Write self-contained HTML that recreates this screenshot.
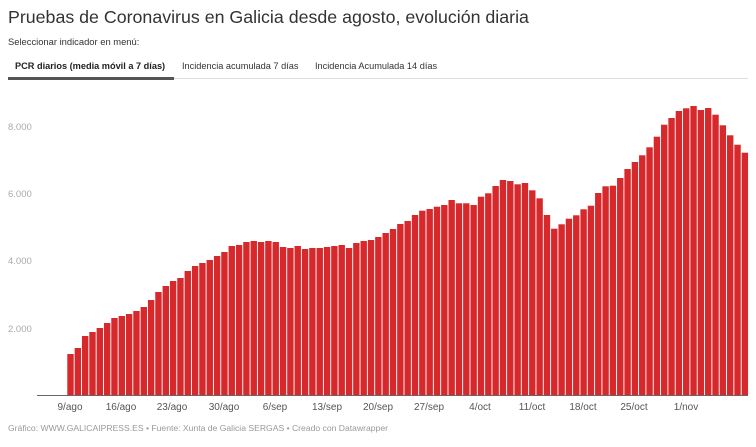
<!DOCTYPE html>
<html><head><meta charset="utf-8"><style>
body{margin:0;width:756px;height:447px;background:#fff;font-family:"Liberation Sans",sans-serif;overflow:hidden;position:relative}
.t{position:absolute;left:8px;top:7px;font-size:17.8px;color:#333;white-space:nowrap}
.s{position:absolute;left:8px;top:36px;font-size:9.4px;color:#333;white-space:nowrap}
.tab{position:absolute;top:61px;font-size:9.2px;color:#333;white-space:nowrap}
.f{position:absolute;left:8px;top:423px;font-size:8.6px;color:#999;white-space:nowrap}
</style></head><body>
<div class="t">Pruebas de Coronavirus en Galicia desde agosto, evolución diaria</div>
<div class="s">Seleccionar indicador en menú:</div>
<div class="tab" style="left:15px;font-weight:bold;color:#222">PCR diarios (media móvil a 7 días)</div>
<div class="tab" style="left:182px">Incidencia acumulada 7 días</div>
<div class="tab" style="left:315px">Incidencia Acumulada 14 días</div>
<div style="position:absolute;left:8px;top:78px;width:740px;height:1px;background:#ddd"></div>
<div style="position:absolute;left:8px;top:77px;width:166px;height:2.5px;background:#555"></div>
<svg id="c" width="756" height="447" style="position:absolute;left:0;top:0" font-family="Liberation Sans, sans-serif">
<g font-size="9.5" fill="#aaa">
<text x="8" y="130">8.000</text><text x="8" y="197">6.000</text><text x="8" y="264">4.000</text><text x="8" y="332">2.000</text>
</g>
<g id="bars" fill="#d7282b"></g>
<line x1="37" y1="395.5" x2="748" y2="395.5" stroke="#666" stroke-width="1"/>
<g font-size="10" fill="#555" text-anchor="middle">
<text x="70" y="410">9/ago</text><text x="121" y="410">16/ago</text><text x="172" y="410">23/ago</text><text x="224" y="410">30/ago</text><text x="275" y="410">6/sep</text><text x="327" y="410">13/sep</text><text x="378" y="410">20/sep</text><text x="429" y="410">27/sep</text><text x="480" y="410">4/oct</text><text x="532" y="410">11/oct</text><text x="583" y="410">18/oct</text><text x="634" y="410">25/oct</text><text x="686" y="410">1/nov</text>
</g>
</svg>
<div class="f">Gráfico: WWW.GALICAIPRESS.ES • Fuente: Xunta de Galicia SERGAS • Creado con Datawrapper</div>
<script>
var tops=[354,348,336,332,328,323,318,316,314,311,307,300,292,286,281,278,271,266,263,260,256,252,246,245,242,241,242,241,242,247,248,246,249,248,248,247,246,245,248,243,241,240,237,233,229,
224,221,215,210.7,209,206.7,205,200,203.3,203.3,205,196.7,193.3,186,180,181,184.3,183,190.3,198.3,215,228.7,224.3,218.7,215.3,209.3,205.7,193,186.3,185.7,178,169,162,155.3,147.3,136.7,124.7,118,111,108.3,106,110,108,114.7,125.3,135.3,144.7,152.7];
var g=document.getElementById('bars'),h='';
for(var i=0;i<tops.length;i++){var x=67.3+i*7.33;h+='<rect x="'+x.toFixed(2)+'" y="'+tops[i]+'" width="6.4" height="'+(395-tops[i]).toFixed(1)+'"/>';}
g.innerHTML=h;
</script>
</body></html>
